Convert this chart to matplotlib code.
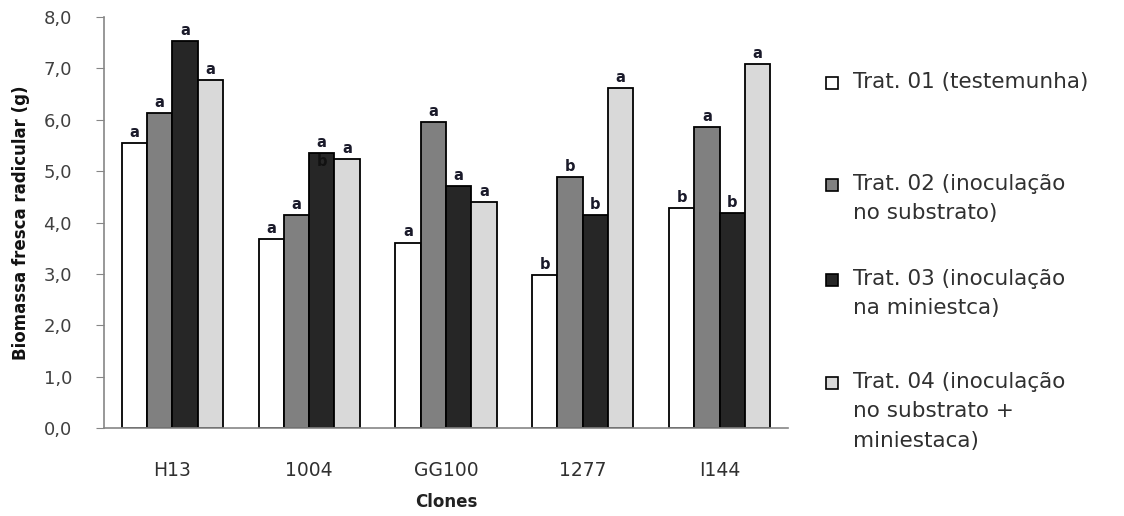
import numpy as np
import matplotlib
matplotlib.use("Agg")
import matplotlib.pyplot as plt
from matplotlib.patches import Rectangle

# data
clones = ["H13", "1004", "GG100", "1277", "I144"]
trat01 = [5.54, 3.68, 3.61, 2.98, 4.29]
trat02 = [6.14, 4.15, 5.96, 4.89, 5.86]
trat03 = [7.54, 5.36, 4.71, 4.15, 4.18]
trat04 = [6.77, 5.23, 4.40, 6.62, 7.09]
letras01 = ["a", "a", "a", "b", "b"]
letras02 = ["a", "a", "a", "b", "a"]
letras03 = ["a", "a", "a", "b", "b"]
letras04 = ["a", "a", "a", "a", "a"]
legendas = ["Trat. 01 (testemunha)",
            "Trat. 02 (inoculação\nno substrato)",
            "Trat. 03 (inoculação\nna miniestca)",
            "Trat. 04 (inoculação\nno substrato +\nminiestaca)"]

cores = ["#ffffff", "#808080", "#262626", "#d9d9d9"]
series = [trat01, trat02, trat03, trat04]
letras = [letras01, letras02, letras03, letras04]

plt.rcParams["font.family"] = ["DejaVu Sans"]

fig = plt.figure(figsize=(11.24, 5.16), dpi=100)
ax = fig.add_axes([0.0925, 0.1705, 0.6085, 0.7965])

x = np.arange(len(clones))
w = 0.185
for i in range(4):
    pos = x + (i - 1.5) * w
    ax.bar(pos, series[i], width=w, color=cores[i], edgecolor="black", linewidth=1.3, zorder=2)
    for j in range(len(clones)):
        ax.text(pos[j], series[i][j] + 0.06, letras[i][j], ha="center", va="bottom",
                fontsize=10.5, fontweight="bold", color="#1a1a2a")

# the extra "b" drawn on top of the black bar of 1004
ax.text(x[1] + 0.5 * w, trat03[1] - 0.02, "b", ha="center", va="top",
        fontsize=10.5, fontweight="bold", color="#111111", zorder=3)

ax.set_xlim(-0.5, len(clones) - 0.5)
ax.set_ylim(0, 8)
ax.set_yticks(np.arange(0, 8.5, 1))
ax.set_yticklabels([f"{v:.1f}".replace(".", ",") for v in np.arange(0, 8.5, 1)])
ax.set_xticks(x)
ax.set_xticklabels(clones)
ax.tick_params(axis="y", length=6, color="#868686", labelsize=13, labelcolor="#404040", pad=17)
ax.tick_params(axis="x", length=0, labelsize=13.5, labelcolor="#303030", pad=24)
for s in ["top", "right"]:
    ax.spines[s].set_visible(False)
for s in ["left", "bottom"]:
    ax.spines[s].set_color("#868686")
    ax.spines[s].set_linewidth(1.2)

ax.set_ylabel("Biomassa fresca radicular (g)", fontsize=12, fontweight="bold", color="#111111", labelpad=10)
ax.set_xlabel("Clones", fontsize=12, fontweight="bold", color="#222222", labelpad=9)

# legend built by hand so the square sits on the first line of each label
ys = [83, 185, 280, 383]
for i in range(4):
    yf = 1 - ys[i] / 516
    fig.patches.append(Rectangle((826 / 1124, yf - 6 / 516), 12 / 1124, 12 / 516,
                                 transform=fig.transFigure, facecolor=cores[i],
                                 edgecolor="black", linewidth=1.2))
    fig.text(853 / 1124, yf + 11 / 516, legendas[i], ha="left", va="top", fontsize=15.5,
             color="#303030", linespacing=1.58)

fig.savefig("out.png", dpi=100)
